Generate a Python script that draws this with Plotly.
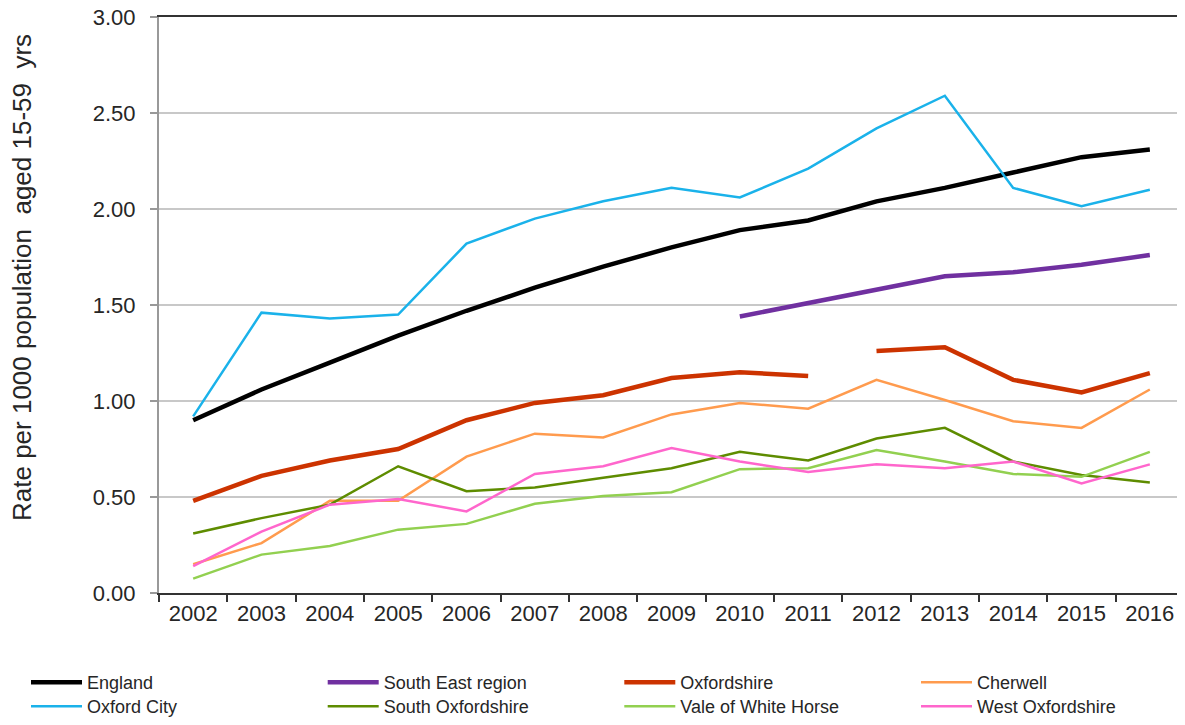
import plotly.graph_objects as go

years = ["2002", "2003", "2004", "2005", "2006", "2007", "2008", "2009",
         "2010", "2011", "2012", "2013", "2014", "2015", "2016"]

england = [0.90, 1.06, 1.20, 1.34, 1.47, 1.59, 1.70, 1.80, 1.89, 1.94, 2.04, 2.11, 2.19, 2.27, 2.31]
south_east = [None, None, None, None, None, None, None, None, 1.44, 1.51, 1.58, 1.65, 1.67, 1.71, 1.76]
oxfordshire = [0.48, 0.61, 0.69, 0.75, 0.90, 0.99, 1.03, 1.12, 1.15, 1.13, 1.26, 1.28, 1.11, 1.045, 1.145]
oxfordshire_break_after = "2011"
cherwell = [0.15, 0.26, 0.48, 0.48, 0.71, 0.83, 0.81, 0.93, 0.99, 0.96, 1.11, 1.005, 0.895, 0.86, 1.06]
oxford_city = [0.92, 1.46, 1.43, 1.45, 1.82, 1.95, 2.04, 2.11, 2.06, 2.21, 2.42, 2.59, 2.11, 2.015, 2.10]
south_oxon = [0.31, 0.39, 0.46, 0.66, 0.53, 0.55, 0.60, 0.65, 0.735, 0.69, 0.805, 0.86, 0.685, 0.615, 0.575]
vale_wh = [0.075, 0.20, 0.245, 0.33, 0.36, 0.465, 0.505, 0.525, 0.645, 0.65, 0.745, 0.685, 0.62, 0.605, 0.735]
west_oxon = [0.14, 0.32, 0.46, 0.49, 0.425, 0.62, 0.66, 0.755, 0.685, 0.63, 0.67, 0.65, 0.685, 0.57, 0.67]

y_ticks = [0, 0.5, 1.0, 1.5, 2.0, 2.5, 3.0]
y_title = "Rate per 1000 population  aged 15-59  yrs"

# name, values, colour, width
series = [
    ("England", england, "#000000", 4.5),
    ("South East region", south_east, "#7030A0", 4.5),
    ("Oxfordshire", oxfordshire, "#CC3300", 4.5),
    ("Cherwell", cherwell, "#FF9B4E", 2.5),
    ("Oxford City", oxford_city, "#1AB2EA", 2.5),
    ("South Oxfordshire", south_oxon, "#5E8C00", 2.5),
    ("Vale of White Horse", vale_wh, "#92D050", 2.5),
    ("West Oxfordshire", west_oxon, "#FF66CC", 2.5),
]

fig = go.Figure()
legend_ids = []
for i, (name, vals, color, w) in enumerate(series):
    lg = "legend" if i == 0 else f"legend{i + 1}"
    legend_ids.append(lg)
    if name == "Oxfordshire":
        k = years.index(oxfordshire_break_after) + 1
        fig.add_trace(go.Scatter(x=years[:k], y=vals[:k], mode="lines", name=name,
                                 legend=lg, legendgroup=name,
                                 line=dict(color=color, width=w)))
        fig.add_trace(go.Scatter(x=years[k:], y=vals[k:], mode="lines", name=name,
                                 legend=lg, legendgroup=name, showlegend=False,
                                 line=dict(color=color, width=w)))
    else:
        fig.add_trace(go.Scatter(x=years, y=vals, mode="lines", name=name,
                                 legend=lg, line=dict(color=color, width=w)))

txt = "#262626"
# The page body adds an 8px margin, so the figure is sized to fit inside the
# window and its margins are reduced by the same amount.
W, H = 1177, 709
ML, MT, MR = 151, 9, 1
PLOT_W, PLOT_H = 1025, 576
MB = H - MT - PLOT_H

# legend grid: 4 columns x 2 rows (figure pixel positions of each legend box)
col_x = [18, 314.7, 611.3, 908]
row_top = [656, 680]

layout_legends = {}
for i, lg in enumerate(legend_ids):
    r, c = divmod(i, 4)
    layout_legends[lg] = dict(
        orientation="h", xref="paper", yref="paper",
        x=(col_x[c] - ML) / PLOT_W, y=(MT + PLOT_H - row_top[r]) / PLOT_H,
        xanchor="left", yanchor="top",
        font=dict(size=18, color=txt),
        itemwidth=51, traceorder="normal",
        bgcolor="rgba(0,0,0,0)",
    )

fig.update_layout(
    width=W, height=H,
    margin=dict(l=ML, r=MR, t=MT, b=MB, autoexpand=False),
    paper_bgcolor="white", plot_bgcolor="white",
    font=dict(family="Liberation Sans, Arial, sans-serif", color=txt),
    showlegend=True,
    **layout_legends,
    xaxis=dict(
        type="category", categoryorder="array", categoryarray=years,
        range=[-0.5, len(years) - 0.5], automargin=False,
        tickson="boundaries", ticks="outside", ticklen=7, tickwidth=1.5,
        tickcolor="#333333", showline=True, linecolor="#333333", linewidth=2,
        mirror=True, showgrid=False,
        tickfont=dict(size=22, color=txt),
    ),
    yaxis=dict(
        range=[0, 3], tickvals=y_ticks, tickformat=".2f", automargin=False,
        ticks="outside", ticklen=7, tickcolor="#999999", tickwidth=1.5,
        showline=True, linecolor="#999999", linewidth=2,
        showgrid=True, gridcolor="#C8C8C8", gridwidth=1.5,
        zeroline=False, ticklabeloverflow="allow",
        tickfont=dict(size=22, color=txt),
        ticklabelstandoff=10,
    ),
)

# y-axis title (placed as in the reference, slightly above the plot centre)
fig.add_annotation(text=y_title, xref="paper", yref="paper",
                   x=(22 - 159) / PLOT_W, y=(593 - 278) / PLOT_H,
                   xanchor="center", yanchor="middle", textangle=-90,
                   showarrow=False, font=dict(size=26, color=txt))

# right border of plot area
fig.add_shape(type="line", xref="paper", yref="paper", x0=1, x1=1, y0=0, y1=1,
              line=dict(color="#333333", width=2))

fig.write_html("out.html")
